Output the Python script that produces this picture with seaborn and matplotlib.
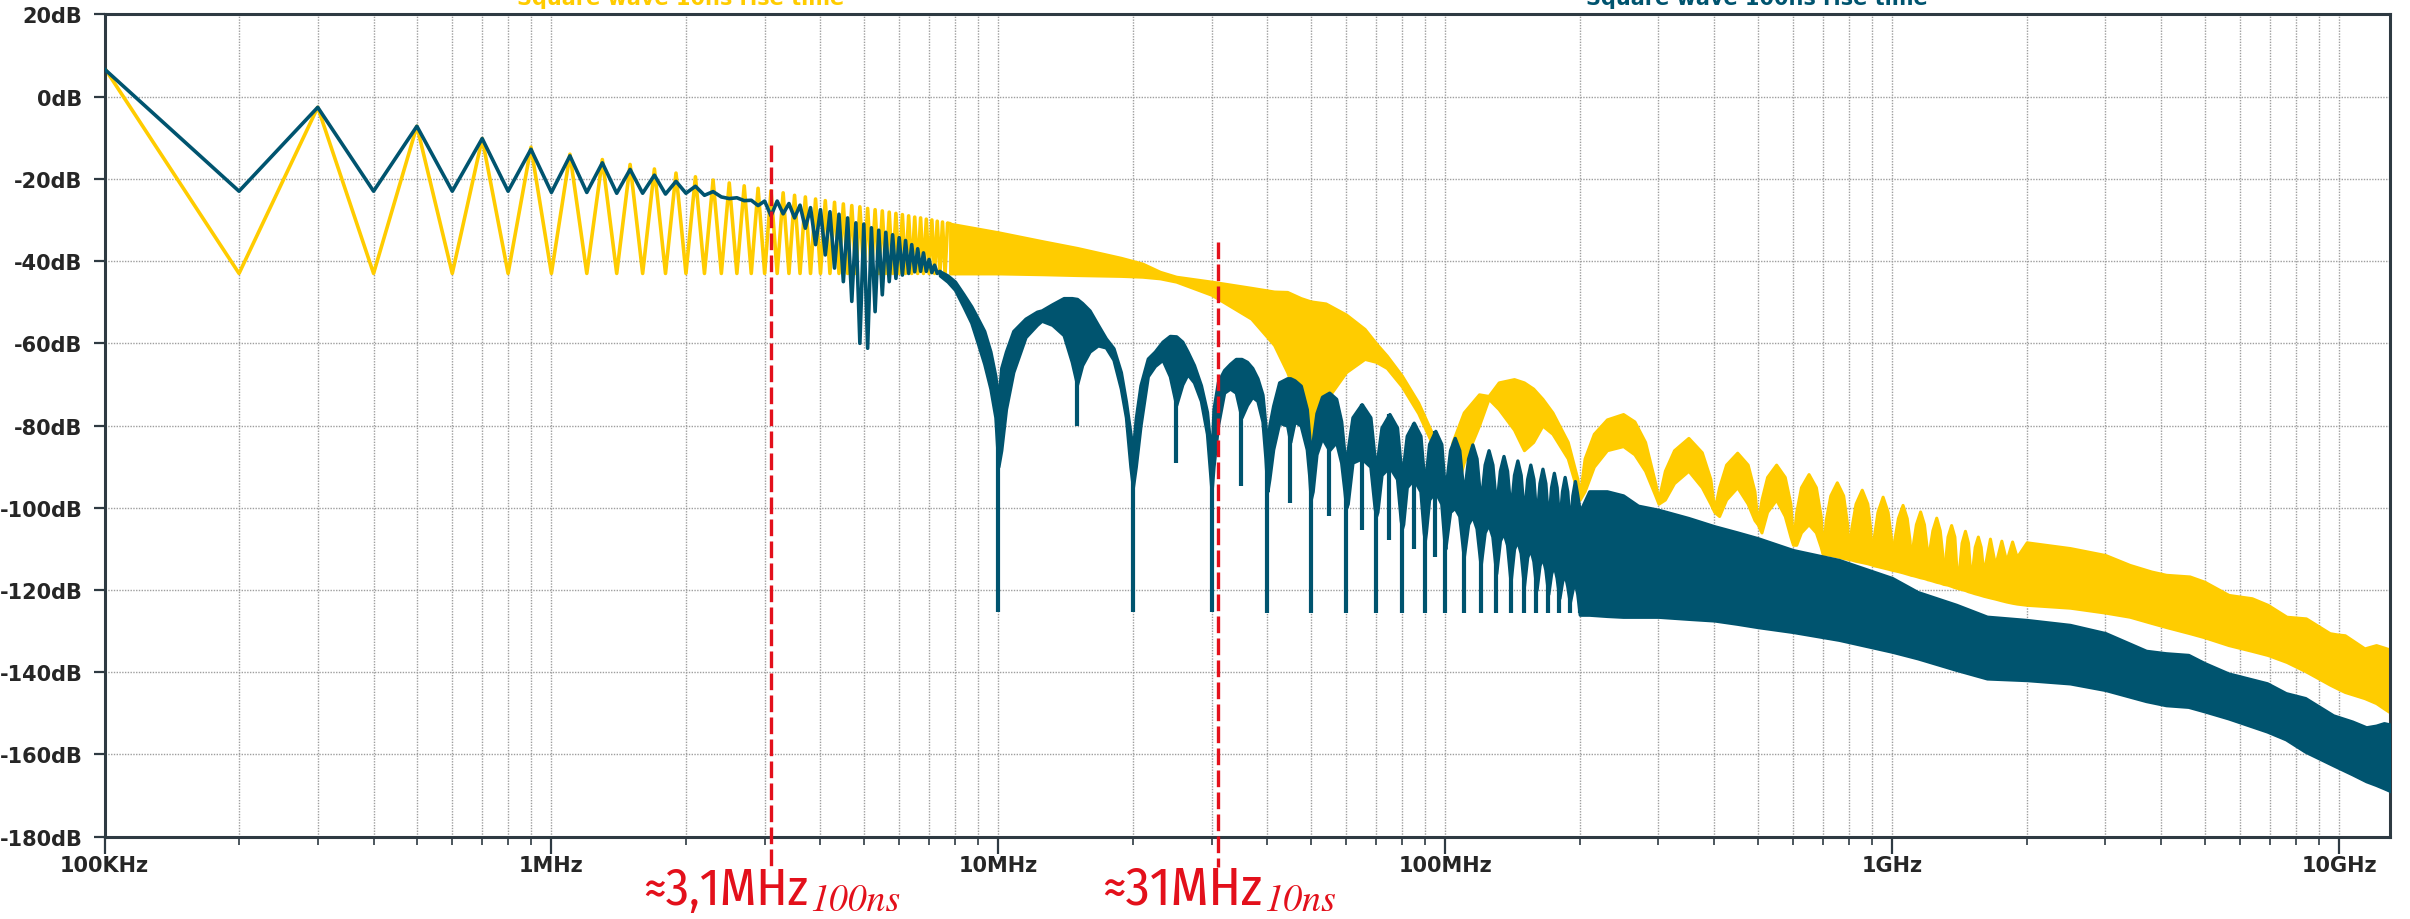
import numpy as np
import pandas as pd
import matplotlib
matplotlib.use("Agg")
import matplotlib.pyplot as plt
from matplotlib import font_manager as fm
from matplotlib.ticker import FixedLocator, LogLocator, NullFormatter
import seaborn as sns

# ------------------------------------------------------------------ data
F0_HZ = 100e3                      # fundamental of the square wave (harmonic n=1)
YEL_NAME = "Square wave 10ns rise time"
TEAL_NAME = "Square wave 100ns rise time"

# yellow (10 ns): odd harmonics n = 1,3,5,...,77 ; even harmonics sit on a flat floor
yel_odd_db = [7.0, -2.6, -7.2, -10.2, -12.3, -14.0, -15.3, -16.5, -17.6, -18.6,
              -19.5, -20.3, -21.0, -21.7, -22.3, -22.9, -23.4, -24.0, -24.4, -24.9,
              -25.3, -25.7, -26.1, -26.5, -26.8, -27.2, -27.5, -27.8, -28.1, -28.4,
              -28.7, -29.0, -29.3, -29.5, -29.8, -30.0, -30.3, -30.5, -30.8]
yel_even_db = -43.0

# teal (100 ns): harmonics n = 1..74
teal_harm_db = [6.7, -23.0, -2.6, -23.0, -7.2, -23.0, -10.2, -23.0, -12.8, -23.3,
                -14.4, -23.3, -16.1, -23.5, -17.7, -23.5, -19.1, -23.7, -20.6, -23.5,
                -21.8, -24.0, -23.1, -24.4, -24.8, -24.6, -25.3, -25.2, -26.5, -25.4,
                -29.0, -25.4, -28.5, -26.0, -29.5, -26.4, -32.0, -27.0, -36.0, -27.5,
                -38.5, -28.0, -41.7, -28.6, -45.0, -29.5, -49.8, -30.7, -60.0, -31.0,
                -61.2, -31.9, -52.3, -32.5, -48.2, -33.0, -45.0, -33.6, -44.2, -34.3,
                -43.4, -35.0, -43.0, -36.0, -42.6, -37.0, -42.5, -38.0, -42.5, -39.6,
                -42.8, -41.0, -43.0, -42.5]

# yellow dense band (frequency in MHz, upper and lower envelope in dB)
yel_band_mhz = [7.8, 10, 12.6, 15, 18.8, 21, 23, 25, 30, 36.8, 41.4, 44.3, 47.5, 50,
                54, 60, 66, 70, 74, 80, 87, 94, 98, 100,
                103.8, 110, 119, 125, 131.7, 142.5, 150, 157.3, 165, 173.7, 188, 197.6, 200,
                205, 215, 230, 250, 265, 280, 295, 300,
                310, 325, 350, 375, 392, 400,
                410, 425, 450, 475, 492, 500,
                510, 525, 550, 575, 592, 600,
                610, 625, 650, 675, 692, 700,
                710, 727, 752, 777, 793, 800,
                810, 828, 855, 880, 893, 900,
                910, 927, 952, 977, 993, 1000,
                1010, 1030, 1055, 1078, 1094, 1100,
                1112, 1130, 1155, 1178, 1194, 1200,
                1212, 1230, 1255, 1278, 1294, 1300,
                1330, 1355, 1378, 1400, 1430, 1455, 1478, 1500,
                1530, 1555, 1578, 1600, 1655, 1700, 1755, 1800, 1855, 1900,
                2000, 2500, 3000, 3400, 3800, 4100, 4630, 5000, 5660, 6380,
                6920, 7630, 8430, 9530, 9900, 10300, 11400, 12100, 12600, 13100]
yel_band_hi = [-30.9, -33, -35.2, -36.8, -39.2, -40.6, -42.6, -43.8, -45, -46.5, -47.4, -47.5, -49, -49.8,
               -50.3, -53, -56.5, -60, -63, -67.9, -74.4, -82.5, -89.9, -98,
               -84, -76.8, -72.4, -72.8, -69.5, -68.7, -69.5, -71, -73.5, -76.8, -84, -93, -97,
               -88, -82, -78.5, -77.2, -79, -84, -94, -98,
               -91, -86, -83, -86.5, -93, -100.5,
               -95, -89.5, -86.6, -89.5, -96, -103.7,
               -98, -92.5, -89.5, -92.5, -99, -108.6,
               -101, -95, -91.8, -95, -102, -111,
               -103, -97, -93.8, -97, -104, -112,
               -105, -99, -95.6, -99, -105, -113.5,
               -107, -101, -97.3, -101, -107, -115,
               -108, -102.5, -99.3, -102.5, -108, -116,
               -109, -104, -100.9, -104, -109.5, -117,
               -110, -105.5, -102.4, -105.5, -111, -118,
               -107, -104.2, -107, -119, -108.5, -105.6, -108.5, -118,
               -109.5, -107, -109.5, -116, -107.5, -114, -108, -113, -108.2, -112,
               -108.4, -109.8, -111.5, -113.9, -115.5, -116.3, -116.7, -118, -121.2, -122,
               -123.6, -126.5, -126.9, -130.5, -130.8, -131, -134.2, -133.4, -134, -134.6]
yel_band_lo = [-43, -43, -43.2, -43.4, -43.6, -43.8, -44.2, -45, -48.2, -54, -60.4, -67, -76, -85,
               -74, -67, -63.8, -64.5, -66, -70.5, -77, -85, -92, -99,
               -99, -89, -80, -73.5, -76, -81, -86, -84, -80, -82, -88, -96, -98,
               -96, -90, -86, -85, -87, -91, -97, -99,
               -98, -94, -91, -95, -99, -101,
               -102, -98, -95, -99, -103, -104,
               -106, -101, -98, -102, -107, -109,
               -109, -106, -104, -106, -109.5, -111.5,
               -111.2, -111.5, -111.8, -112.2, -112.4, -112.5,
               -112.6, -112.9, -113.2, -113.5, -113.7, -113.8,
               -114, -114.2, -114.5, -114.8, -115, -115.1,
               -115.2, -115.4, -115.7, -116, -116.2, -116.3,
               -116.4, -116.6, -116.9, -117.1, -117.3, -117.4,
               -117.5, -117.7, -118, -118.2, -118.4, -118.5,
               -118.7, -119, -119.3, -119.5, -119.8, -120, -120.3, -120.5,
               -120.8, -121, -121.2, -121.4, -121.8, -122.1, -122.5, -122.8, -123.1, -123.3,
               -123.6, -124.3, -125.5, -126.5, -128, -129, -130.5, -131.5, -133.4, -134.8,
               -135.8, -137.5, -139.8, -143, -143.9, -144.8, -146.3, -147.5, -148.8, -150]

# teal dense band (frequency in MHz, upper and lower envelope in dB)
teal_band_mhz = [7.4, 7.7, 8.0, 8.35, 8.7, 9.0, 9.3, 9.6, 9.85, 10.0,
                 10.15, 10.4, 10.8, 11.5, 12.2, 12.5, 13.2, 14.0, 14.6, 15.0,
                 15.4, 16.0, 16.7, 17.4, 18.1, 18.8, 19.3, 19.75, 20.0,
                 20.3, 20.8, 21.6, 22.4, 23.3, 24.2, 25.0, 25.8, 26.5, 27.4, 28.4, 29.3, 29.8, 30.0,
                 30.3, 31.0, 32.0, 33.0, 34.0, 35.0, 36.0, 37.0, 38.0, 39.0, 39.6, 40.0,
                 40.4, 41.2, 42.5, 44.3, 45.0, 46.0, 47.5, 49.0, 49.6, 50.0,
                 50.5, 51.5, 53.0, 55.0, 57.0, 58.5, 59.5, 60.0,
                 60.5, 62.0, 65.0, 68.0, 69.5, 70.0,
                 70.5, 72.0, 75.0, 78.0, 79.5, 80.0,
                 80.5, 82.0, 85.0, 88.0, 89.5, 90.0,
                 90.5, 92.0, 95.0, 98.0, 99.5, 100.0,
                 102.5, 105, 107.5, 110, 112.5, 115, 117.5, 120,
                 122.5, 125, 127.5, 130, 132.5, 135, 137.5, 140,
                 142.5, 145, 147.5, 150, 152.5, 155, 157.5, 160,
                 162.5, 165, 167.5, 170, 172.5, 175, 177.5, 180,
                 182.5, 185, 187.5, 190, 192.5, 195, 197.5, 200,
                 210, 230, 250, 270, 300, 350, 400, 450, 500,
                 600, 760, 1000, 1140, 1390, 1630, 2000, 2500, 3000, 3700,
                 4100, 4600, 5000, 5650, 6900, 7600, 8400, 9700, 10700, 11500,
                 12100, 12600, 13100]
teal_band_hi = [-42.5, -43.5, -45, -48, -51, -54, -57, -62, -68, -74,
                -66, -62, -57, -54, -52.3, -52, -50.5, -49, -49, -49.2,
                -50.2, -52, -55.5, -58.8, -61.2, -67, -74.2, -82, -86,
                -78.3, -70.2, -63.7, -62, -59.6, -58.2, -58.3, -59.6, -62, -65.3, -70.2, -76.7, -85, -88,
                -76, -69.4, -66.5, -65, -63.8, -63.8, -64.5, -66, -68.5, -72.5, -80, -86,
                -80, -75.2, -69.5, -68.5, -68.5, -69, -70.3, -76, -82.5, -88,
                -84, -77, -73, -72, -73.5, -79, -87, -90,
                -86, -78, -74.8, -78, -88, -91,
                -88, -80.5, -77.2, -80.5, -90, -92,
                -90, -82.5, -79.3, -82.5, -92, -94,
                -92, -84.5, -81.3, -84.5, -94, -96,
                -86, -83, -86, -97, -88, -84.6, -88, -99,
                -89.5, -86, -89.5, -100, -91, -87.4, -91, -101,
                -92, -88.5, -92, -102, -93, -89.5, -93, -103,
                -94, -90.5, -94, -104, -95, -91.5, -95, -104,
                -96, -92.5, -96, -105, -97, -93.5, -97, -101,
                -96, -96, -97, -99.5, -100.5, -102.5, -104.5, -106, -107.4,
                -110.3, -112.7, -117.1, -120.5, -123.6, -126.5, -127.3, -128.5, -130.5, -134.8,
                -135.4, -135.8, -137.8, -140.3, -142.7, -145.1, -146.3, -150.5, -152.0, -153.4,
                -153.0, -152.4, -152.8]
teal_band_lo = [-43.5, -45, -47, -51, -55, -60, -65, -71, -78, -90,
                -86, -76, -67, -58.5, -55.5, -54.5, -55.5, -58, -64.5, -70,
                -65.3, -62, -60.5, -61, -64, -71, -78, -90, -95,
                -90, -80, -68, -65.5, -64, -68, -75, -70, -67.5, -69.5, -74, -82, -92, -96,
                -90, -80, -72, -71, -72, -78, -75, -73, -74, -79, -88, -96,
                -93, -85.8, -79.3, -80, -84, -79, -80, -85.8, -92, -98,
                -96, -87, -83, -86, -84, -89, -96, -100,
                -99, -89, -88, -90, -100, -102,
                -101, -92, -90, -93, -103, -105,
                -104, -95, -93, -96, -106, -108,
                -106, -98, -96, -99, -108, -110,
                -101, -100, -102, -112, -104, -102, -105, -114,
                -106, -104, -107, -116, -108, -106, -109, -118,
                -110, -108, -111, -119, -112, -110, -113, -120,
                -114, -112, -115, -121, -116, -114, -117, -122,
                -118, -116, -119, -123, -120, -118, -121, -126,
                -126, -126.3, -126.5, -126.5, -126.5, -127, -127.4, -128.2, -129,
                -130.2, -132.1, -135.0, -136.6, -139.4, -141.5, -141.9, -142.7, -144.3, -147.0,
                -148.0, -148.4, -149.5, -151.2, -154.4, -156.3, -159.3, -162.6, -164.8, -166.5,
                -167.4, -168.2, -169.0]

# teal notches (sinc nulls) : frequency in MHz and depth in dB
teal_spike_mhz = [10, 15, 20, 25, 30, 35, 40, 45, 50, 55, 60, 65, 70, 75, 80, 85, 90, 95, 100,
                  110, 120, 130, 140, 150, 160, 170, 180, 190, 200]
teal_spike_db = [-125.4, -80, -125.4, -89, -125.4, -94.6, -125.5, -98.8, -125.7, -102, -125.7,
                 -105.4, -125.7, -107.8, -125.7, -110, -125.7, -112, -125.7,
                 -125.7, -125.7, -125.7, -125.7, -125.7, -125.7, -125.7, -125.7, -125.7, -125.7]

# corner-frequency markers
marker_mhz = [3.1, 31]
marker_top_db = [-11.8, -35.4]
marker_main = ["\u22483,1MHz", "\u224831MHz"]
marker_sub = ["100ns", "10ns"]

x_tick_hz = [1e5, 1e6, 1e7, 1e8, 1e9, 1e10]
x_tick_labels = ["100KHz", "1MHz", "10MHz", "100MHz", "1GHz", "10GHz"]
y_ticks = list(range(20, -181, -20))
y_tick_labels = [f"{v}dB" for v in y_ticks]

assert len(yel_band_mhz) == len(yel_band_hi) == len(yel_band_lo)
assert len(teal_band_mhz) == len(teal_band_hi) == len(teal_band_lo)

# ------------------------------------------------------------------ styling
YEL = "#FFCC00"
TEAL = "#00546F"
RED = "#E3101B"
SPINE = "#2E3A42"
GRID = "#9E9E9E"


def pick_family(cands):
    for c in cands:
        try:
            fm.findfont(fm.FontProperties(family=c), fallback_to_default=False)
            return c
        except Exception:
            continue
    return "DejaVu Sans"


RED_FONT = pick_family(["Fira Sans Condensed", "Roboto Condensed", "Encode Sans Condensed",
                        "Archivo Narrow", "PT Sans Narrow", "Liberation Sans Narrow"])

sns.set_theme(style="white")
plt.rcParams["font.family"] = ["DejaVu Sans"]
TICK_FONT = {"family": ["DejaVu Sans"], "weight": "bold", "size": 15}

W_PX, H_PX = 2410, 920
fig = plt.figure(figsize=(W_PX / 100, H_PX / 100), dpi=100)
ax = fig.add_axes([104.5 / W_PX, 1 - 837.7 / H_PX, (2390 - 104.5) / W_PX, (837.7 - 15.4) / H_PX])
ax.set_xscale("log")
ax.set_xlim(1e5, 1.3e10)
ax.set_ylim(-180, 20)

# ---- build frames
yel_n = np.arange(1, 2 * len(yel_odd_db))
yel_db = [yel_odd_db[(n - 1) // 2] if n % 2 else yel_even_db for n in yel_n]
yel_harm = pd.DataFrame({"f": yel_n * F0_HZ, "db": yel_db})
teal_n = np.arange(1, len(teal_harm_db) + 1)
teal_harm = pd.DataFrame({"f": teal_n * F0_HZ, "db": teal_harm_db})
yel_band = pd.DataFrame({"f": np.array(yel_band_mhz) * 1e6, "hi": yel_band_hi, "lo": yel_band_lo})
teal_band = pd.DataFrame({"f": np.array(teal_band_mhz) * 1e6, "hi": teal_band_hi, "lo": teal_band_lo})

LW = 2.6
# yellow
sns.lineplot(data=yel_harm, x="f", y="db", color=YEL, lw=LW, estimator=None, sort=False,
             ax=ax, zorder=2, legend=False)
ax.fill_between(yel_band["f"], yel_band["lo"], yel_band["hi"], facecolor=YEL, edgecolor=YEL,
                lw=2.2, zorder=2)
sns.lineplot(x=[yel_harm["f"].iloc[-1], yel_band["f"].iloc[0]],
             y=[yel_harm["db"].iloc[-1], yel_band["hi"].iloc[0]], color=YEL, lw=LW,
             estimator=None, ax=ax, zorder=2, legend=False)

# teal
sns.lineplot(data=teal_harm, x="f", y="db", color=TEAL, lw=LW, estimator=None, sort=False,
             ax=ax, zorder=3, legend=False)
ax.fill_between(teal_band["f"], teal_band["lo"], teal_band["hi"], facecolor=TEAL, edgecolor=TEAL,
                lw=2.4, zorder=3)
spike_f = np.array(teal_spike_mhz) * 1e6
spike_top = np.interp(np.log10(spike_f), np.log10(teal_band["f"]), teal_band["hi"])
ax.vlines(spike_f, spike_top, teal_spike_db, color=TEAL, lw=3.0, zorder=3)

# ---- axes styling
ax.xaxis.set_major_locator(FixedLocator(x_tick_hz))
ax.set_xticklabels(x_tick_labels, fontdict=TICK_FONT)
ax.xaxis.set_minor_locator(LogLocator(base=10, subs=np.arange(2, 10), numticks=100))
ax.xaxis.set_minor_formatter(NullFormatter())
ax.set_yticks(y_ticks)
ax.set_yticklabels(y_tick_labels, fontdict=TICK_FONT)
ax.set_xlabel("")
ax.set_ylabel("")

ax.grid(True, which="major", axis="both", color=GRID, ls=(0, (1, 1)), lw=1.0)
ax.grid(True, which="minor", axis="x", color=GRID, ls=(0, (1, 1)), lw=1.0)
ax.set_axisbelow(True)
for s in ax.spines.values():
    s.set_visible(True)
    s.set_color(SPINE)
    s.set_linewidth(2.2)
ax.tick_params(axis="y", which="major", direction="out", length=8, width=1.6, color=SPINE,
               pad=8, left=True)
ax.tick_params(axis="x", which="major", direction="out", length=12, width=1.6, color=SPINE,
               pad=1, bottom=True)
ax.tick_params(axis="x", which="minor", direction="out", length=6, width=1.2, color=SPINE,
               bottom=True)

# ---- red corner-frequency markers
for f_mhz, top in zip(marker_mhz, marker_top_db):
    ax.plot([f_mhz * 1e6, f_mhz * 1e6], [top, -187.3], color=RED, lw=2.4,
            ls=(0, (5, 1.6)), clip_on=False, zorder=6)

renderer = fig.canvas.get_renderer()
MAIN_W = [165, 160]     # target widths in px of the two main labels
SUB_W = [90, 72]
for i, (f_mhz, main, sub) in enumerate(zip(marker_mhz, marker_main, marker_sub)):
    y_base = 1 - 905 / H_PX
    t1 = fig.text(0, 0, main, color=RED, fontsize=36, family=[RED_FONT, "DejaVu Sans"],
                  va="baseline", ha="left")
    w1 = t1.get_window_extent(renderer).width
    t1.set_fontsize(36 * MAIN_W[i] / w1)
    w1 = t1.get_window_extent(renderer).width
    t2 = fig.text(0, 0, sub, color=RED, fontsize=26, family="STIXGeneral", style="italic",
                  va="baseline", ha="left")
    w2 = t2.get_window_extent(renderer).width
    t2.set_fontsize(26 * SUB_W[i] / w2)
    w2 = t2.get_window_extent(renderer).width
    xc = ax.transData.transform((f_mhz * 1e6, 0))[0]
    x0 = xc - (w1 + w2) / 2
    t1.set_position((x0 / W_PX, y_base))
    t2.set_position(((x0 + w1 + 2) / W_PX, y_base - 6 / H_PX))

# ---- series names (cut by the top edge as in the reference)
fig.text(681 / W_PX, 1 - 5 / H_PX, YEL_NAME, color=YEL, fontsize=15, fontweight="bold",
         ha="center", va="baseline")
fig.text(1757 / W_PX, 1 - 5 / H_PX, TEAL_NAME, color=TEAL, fontsize=15, fontweight="bold",
         ha="center", va="baseline")

fig.savefig("out.png", dpi=100)
